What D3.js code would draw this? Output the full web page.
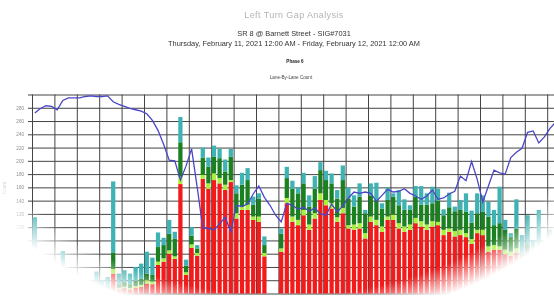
<!DOCTYPE html>
<meta charset="utf-8">
<script src="https://d3js.org/d3.v7.min.js"></script>
<style>
  body { margin: 0; background: #fff; }
  svg { display: block; filter: blur(0.45px); }
  text { font-family: "Liberation Sans", Arial, sans-serif; }
</style>
<body>
<script>

// 15 minute bins over the day
var bins = d3.range(96).map(function(i) {
    return d3.format("02")(Math.floor(i / 4)) + ":" + d3.format("02")((i % 4) * 15);
});

// stacked lane counts, bottom to top
var red = [25,8,6,5,4,12,5,4,3,4,3,5,4,5,30,6,8,6,9,10,
    15,14,43,48,60,52,165,28,69,57,
    173,158,171,166,156,168,113,126,126,111,
    108,56,0,0,63,136,108,103,118,96,
    113,141,133,128,108,121,98,96,98,83,
    108,103,93,111,111,98,93,96,106,101,
    96,101,103,88,93,86,88,85,75,91,
    88,63,66,66,59,57,62,38,48,30,
    45,25,31,30,25,20];
var lightGreen = [5,2,2,1,1,3,1,1,1,1,1,2,1,1,7,2,2,2,2,3,
    5,4,5,5,5,4,11,4,5,4,
    6,8,10,8,8,3,8,5,8,5,
    8,5,0,0,5,8,8,8,8,8,
    8,10,8,8,7,8,5,8,8,8,
    8,8,8,5,8,8,8,8,8,8,
    8,8,5,8,5,8,8,6,7,5,
    8,8,7,5,7,6,6,5,5,5,
    6,5,5,5,4,4];
var darkGreen = [25,8,6,5,4,9,5,4,3,4,3,6,4,5,25,6,7,6,8,9,
    10,10,22,20,25,27,52,10,13,7,
    26,25,25,30,20,35,30,33,37,18,
    27,12,0,0,22,30,42,40,40,27,
    37,35,30,30,28,42,40,27,40,30,
    32,30,27,25,27,27,25,22,32,25,
    30,27,32,22,32,30,30,32,25,25,
    27,45,30,35,30,22,30,15,20,15,
    20,10,15,15,12,10];
var teal = [60,22,16,14,11,40,14,11,8,11,8,20,11,14,107,16,18,16,21,23,
    33,26,22,11,21,10,38,9,13,5,
    15,14,17,14,18,12,12,18,18,12,
    8,13,0,0,8,17,12,9,16,17,
    19,12,14,15,13,22,17,17,20,5,
    18,26,8,19,5,23,16,7,16,28,
    17,25,18,9,22,7,15,28,18,30,
    25,22,23,55,15,6,44,30,45,30,
    55,30,45,40,39,36];

// blue line
var lineValues = [272,279,283,282,277,291,295,295,295,297,298,297,297,298,289,285,282,279,277,275,
    271,261,246,225,201,200,171,192,218,160,
    99,98,96,105,115,93,133,131,135,150,
    162,145,133,118,108,136,133,127,130,124,
    129,120,118,135,123,132,144,153,151,153,
    151,139,148,157,153,154,158,151,147,142,
    147,156,142,144,150,154,177,170,199,172,
    138,162,186,182,180,205,213,219,243,245,
    227,236,249,258,262,265];

var yTicks = [0,20,40,60,80,100,120,140,160,180,200,220,240,260,280];
var hours = d3.range(25);

var width = 554,
    height = 296;

var svg = d3.select("body").append("svg")
    .attr("width", width)
    .attr("height", height);

var left = 32,
    plotRight = 32 + 96 * 5.6;

var x = d3.scaleBand()
    .domain(bins)
    .range([left, plotRight])
    .paddingInner(0.24)
    .paddingOuter(0.12);

var xHour = d3.scaleLinear()
    .domain([0, 24])
    .range([left, plotRight]);

var y = d3.scaleLinear()
    .domain([0, 300])
    .range([293.5, 94.5]);

// titles
var cx = 294;
svg.append("text").attr("x", cx).attr("y", 18).attr("text-anchor", "middle")
    .style("font-size", "9px").style("fill", "#b4b4b4").style("letter-spacing", "0.4px")
    .text("Left Turn Gap Analysis");
svg.append("text").attr("x", cx).attr("y", 36).attr("text-anchor", "middle")
    .style("font-size", "7.4px").style("fill", "#333")
    .text("SR 8  @  Barnett Street - SIG#7031");
svg.append("text").attr("x", cx).attr("y", 45.5).attr("text-anchor", "middle")
    .style("font-size", "7.4px").style("fill", "#333")
    .text("Thursday, February 11, 2021 12:00 AM - Friday, February 12, 2021 12:00 AM");
svg.append("text").attr("x", cx + 1).attr("y", 63).attr("text-anchor", "middle")
    .style("font-size", "4.6px").style("font-weight", "bold").style("fill", "#222")
    .text("Phase 6");
svg.append("text").attr("x", cx - 3).attr("y", 79).attr("text-anchor", "middle")
    .style("font-size", "4.6px").style("fill", "#444")
    .text("Lane-By-Lane Count");

// grid
svg.append("g")
    .attr("transform", "translate(" + (left - 4) + ",0)")
    .call(d3.axisLeft(y).tickValues(yTicks.concat([300])).tickSize(-(plotRight - left + 4)).tickFormat(""))
    .call(function(g) { g.select(".domain").remove(); })
    .selectAll("line").attr("stroke", "#444").attr("stroke-width", 1);

svg.append("g")
    .attr("transform", "translate(0," + y(0) + ")")
    .call(d3.axisBottom(xHour).tickValues(hours).tickSize(-(y(0) - y(300))).tickFormat(""))
    .call(function(g) { g.select(".domain").remove(); })
    .selectAll("line").attr("stroke", "#444").attr("stroke-width", 1);

// y tick labels
svg.append("g")
    .attr("transform", "translate(" + (left - 4) + ",0)")
    .call(d3.axisLeft(y).tickValues(yTicks).tickSize(0).tickPadding(4))
    .call(function(g) { g.select(".domain").remove(); })
    .selectAll("text").style("font-size", "4.6px").style("fill", "#8a8a8a")
    .style("font-family", "Liberation Sans, Arial, sans-serif");

svg.append("text")
    .attr("transform", "translate(6,188) rotate(-90)")
    .attr("text-anchor", "middle")
    .style("font-size", "4.6px").style("fill", "#c8c8c8")
    .text("Count");

// stacked bars
var rows = bins.map(function(b, i) {
    return { bin: b, red: red[i], lightGreen: lightGreen[i], darkGreen: darkGreen[i], teal: teal[i] };
});
var keys = ["red", "lightGreen", "darkGreen", "teal"];
var colors = { red: "#f21b1b", lightGreen: "#a8f03a", darkGreen: "#1a8020", teal: "#3fb3b3" };
var series = d3.stack().keys(keys)(rows);

svg.append("g")
    .selectAll("g")
    .data(series)
    .enter().append("g")
    .attr("fill", function(d) { return colors[d.key]; })
    .selectAll("rect")
    .data(function(d) { return d; })
    .enter().append("rect")
    .attr("x", function(d) { return x(d.data.bin); })
    .attr("width", x.bandwidth())
    .attr("y", function(d) { return y(d[1]); })
    .attr("height", function(d) { return y(d[0]) - y(d[1]); });

// line
var line = d3.line()
    .x(function(d, i) { return x(bins[i]) + x.bandwidth() / 2; })
    .y(function(d) { return y(d); });

svg.append("path")
    .datum(lineValues)
    .attr("fill", "none")
    .attr("stroke", "#4a46c8")
    .attr("stroke-width", 1.3)
    .attr("d", line);

// white vignette round the picture
var grad = svg.append("defs").append("radialGradient")
    .attr("id", "fade")
    .attr("gradientUnits", "userSpaceOnUse")
    .attr("cx", 285).attr("cy", 95).attr("r", 340)
    .attr("gradientTransform", "translate(0,95) scale(1," + (228 / 340) + ") translate(0,-95)");
grad.append("stop").attr("offset", 0.88).attr("stop-color", "#fff").attr("stop-opacity", 0);
grad.append("stop").attr("offset", 0.95).attr("stop-color", "#fff").attr("stop-opacity", 0.6);
grad.append("stop").attr("offset", 1.0).attr("stop-color", "#fff").attr("stop-opacity", 1);

svg.append("rect")
    .attr("width", width)
    .attr("height", height)
    .attr("fill", "url(#fade)");

</script>
</body>
